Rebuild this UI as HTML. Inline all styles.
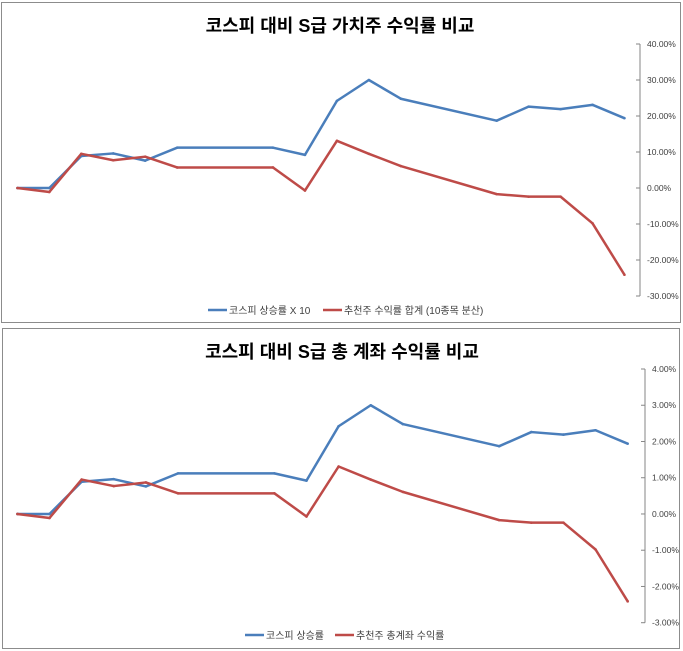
<!DOCTYPE html>
<html><head><meta charset="utf-8">
<style>
html,body{margin:0;padding:0;background:#fff;}
svg{display:block;font-family:"Liberation Sans","Noto Sans CJK KR",sans-serif;}
</style></head>
<body>
<svg id="svg" width="683" height="651" viewBox="0 0 683 651"></svg>
<script>
const categories = Array.from({length:20},(_,i)=>i+1);
const kospiX10 = [0,0,8.9,9.6,7.6,11.2,null,null,11.2,9.2,24.2,30.0,24.8,null,null,18.7,22.6,21.9,23.1,19.4];
const picksSum = [0,-1.1,9.5,7.7,8.7,5.7,null,null,5.7,-0.7,13.1,9.5,6.1,null,null,-1.7,-2.4,-2.4,-9.8,-24.1];
const kospiRate = [0,0,0.89,0.96,0.76,1.12,null,null,1.12,0.92,2.42,3.0,2.48,null,null,1.87,2.26,2.19,2.31,1.94];
const accountRate = [0,-0.11,0.95,0.77,0.87,0.57,null,null,0.57,-0.07,1.31,0.95,0.61,null,null,-0.17,-0.24,-0.24,-0.98,-2.41];
const ticks1 = [40,30,20,10,0,-10,-20,-30];
const ticks2 = [4,3,2,1,0,-1,-2,-3];

const NS="http://www.w3.org/2000/svg";
const svg=document.getElementById('svg');
function mk(tag,attrs,parent){const e=document.createElementNS(NS,tag);for(const k in attrs)e.setAttribute(k,attrs[k]);(parent||svg).appendChild(e);return e;}

function chart(o){
  const g=mk('g',{});
  
  
  const box=mk('rect',{x:o.bx,y:o.by,width:o.bw,height:o.bh,fill:'#fff',stroke:'#8c8c8c','stroke-width':1},g);
  
  
  const t=mk('text',{x:o.tx,y:o.ty,'text-anchor':'middle','font-size':18,'font-weight':'bold',fill:'#000'},g);
  t.textContent=o.title;
  
  
  const yMax=o.ticks[0], yMin=o.ticks[o.ticks.length-1];
  const yS=v=>o.y0+(yMax-v)/(yMax-yMin)*(o.y1-o.y0);
  const xS=i=>o.x0+i*o.step;
  const ax=mk('line',{x1:o.ax,y1:o.y0,x2:o.ax,y2:o.y1,stroke:'#868686','stroke-width':1},g);
  
  
  o.ticks.forEach(v=>{
    const y=yS(v);
    const tk=mk('line',{x1:o.ax-4,y1:y,x2:o.ax,y2:y,stroke:'#868686'},g);
    
    
    const l=mk('text',{x:o.ax+7,y:y+3,'font-size':8.5,fill:'#404040'},g);
    l.textContent=v.toFixed(2)+'%';
    
    
  });
  o.series.forEach(s=>{
    const pts=[];
    s.data.forEach((v,i)=>{if(v!==null)pts.push(xS(i)+','+yS(v));});
    const p=mk('polyline',{points:pts.join(' '),fill:'none',stroke:s.color,'stroke-width':2.5,'stroke-linejoin':'round'},g);
    
    
    s.data.forEach((v,i)=>{if(v===null)return;
      const c=mk('circle',{cx:xS(i),cy:yS(v),r:1.3,fill:s.color},g);
      
      
    });
  });
  o.legend.forEach(L=>{
    const lg=mk('g',{},g);
    
    
    mk('line',{x1:L.x,y1:o.ly,x2:L.x+19,y2:o.ly,stroke:L.color,'stroke-width':2.5},lg);
    const tx=mk('text',{x:L.x+21,y:o.ly+4,'font-size':10,fill:'#404040'},lg);
    tx.textContent=L.text;
  });
}

chart({name:'chart-stock-returns',bx:1.5,by:2.5,bw:679,bh:320,title:'코스피 대비 S급 가치주 수익률 비교',tx:340,ty:32,
  ticks:ticks1,y0:44,y1:296,ax:640,x0:17.4,step:31.95,
  series:[{name:'kospi-x10-line',data:kospiX10,color:'#4a7ebb'},{name:'picks-sum-line',data:picksSum,color:'#be4b48'}],
  ly:310,legend:[{x:208,text:'코스피 상승률 X 10',color:'#4a7ebb'},{x:323,text:'추천주 수익률 합계 (10종목 분산)',color:'#be4b48'}]});

chart({name:'chart-account-returns',bx:2.5,by:328.5,bw:677,bh:320,title:'코스피 대비 S급 총 계좌 수익률 비교',tx:342,ty:358,
  ticks:ticks2,y0:369,y1:622.7,ax:645,x0:17.4,step:32.12,
  series:[{name:'kospi-rate-line',data:kospiRate,color:'#4a7ebb'},{name:'account-rate-line',data:accountRate,color:'#be4b48'}],
  ly:635,legend:[{x:245,text:'코스피 상승률',color:'#4a7ebb'},{x:335,text:'추천주 총계좌 수익률',color:'#be4b48'}]});
</script>
</body></html>
